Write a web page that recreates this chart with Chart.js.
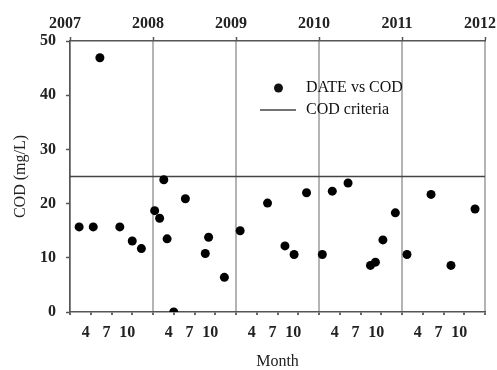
<!DOCTYPE html>
<html>
<head>
<meta charset="utf-8">
<script src="https://cdn.jsdelivr.net/npm/chart.js@4.4.1/dist/chart.umd.min.js"></script>
<style>
  html, body { margin: 0; padding: 0; background: #fff; }
  #wrap { width: 497px; height: 370px; }
</style>
</head>
<body>
<div id="wrap"><canvas id="chart"></canvas></div>
<script>
// sampling dates (decimal years) and measured COD (mg/L)
const sampleDates = [
    2007.11, 2007.28, 2007.36, 2007.60, 2007.75, 2007.86,
    2008.02, 2008.08, 2008.13, 2008.17, 2008.25, 2008.39, 2008.63, 2008.67, 2008.86,
    2009.05, 2009.38, 2009.59, 2009.70, 2009.85,
    2010.04, 2010.16, 2010.35, 2010.62, 2010.68, 2010.77, 2010.92,
    2011.06, 2011.35, 2011.59, 2011.88
];
const codValues = [
    15.7, 15.7, 46.9, 15.7, 13.1, 11.7,
    18.7, 17.3, 24.4, 13.5, 0, 20.9, 10.8, 13.8, 6.4,
    15.0, 20.1, 12.2, 10.6, 22.0,
    10.6, 22.3, 23.8, 8.6, 9.2, 13.3, 18.3,
    10.6, 21.7, 8.6, 19.0
];
const criteriaLevel = 25;
const years = [2007, 2008, 2009, 2010, 2011, 2012];
const monthTicks = [4, 7, 10];
const yTicks = [0, 10, 20, 30, 40, 50];

const serif = "'Liberation Serif', 'Times New Roman', serif";
const tickFont = { family: serif, size: 16, weight: "bold" };
const ink = "#222";
const axisColor = "#555";

// year ticks plus month ticks inside each year
const bottomTicks = [];
years.forEach(y => {
    bottomTicks.push(y);
    if (y < years[years.length - 1]) {
        monthTicks.forEach(m => bottomTicks.push(y + (m - 1) / 12));
    }
});

const refLegend = {
    id: "refLegend",
    afterDraw(chart) {
        const ctx = chart.ctx;
        const [pts, crit] = chart.data.datasets;
        const a = chart.chartArea;
        const x0 = a.left + 190, y0 = a.top + 47;
        ctx.save();
        ctx.font = "16px " + serif;
        ctx.fillStyle = "#111";
        ctx.textBaseline = "middle";
        ctx.beginPath();
        ctx.arc(x0 + 18.5, y0, pts.pointRadius, 0, Math.PI * 2);
        ctx.fill();
        ctx.fillText(pts.label, x0 + 46, y0);
        ctx.strokeStyle = crit.borderColor;
        ctx.lineWidth = crit.borderWidth;
        ctx.beginPath();
        ctx.moveTo(x0, y0 + 22);
        ctx.lineTo(x0 + 36, y0 + 22);
        ctx.stroke();
        ctx.fillText(crit.label, x0 + 46, y0 + 22);
        ctx.restore();
    }
};

new Chart(document.getElementById("chart"), {
    type: "scatter",
    data: {
        datasets: [{
            label: "DATE vs COD",
            data: sampleDates.map((d, i) => ({ x: d, y: codValues[i] })),
            pointRadius: 4.5,
            pointBackgroundColor: "#000",
            pointBorderWidth: 0
        }, {
            type: "line",
            label: "COD criteria",
            data: [years[0], years[years.length - 1]].map(x => ({ x: x, y: criteriaLevel })),
            borderColor: "#444",
            borderWidth: 1.5,
            pointRadius: 0
        }]
    },
    options: {
        responsive: true,
        maintainAspectRatio: false,
        animation: false,
        layout: { padding: { right: 12 } },
        plugins: {
            legend: { display: false },
            tooltip: { enabled: false }
        },
        scales: {
            x: {
                type: "linear",
                position: "bottom",
                min: 2007,
                max: 2012,
                afterBuildTicks: s => { s.ticks = bottomTicks.map(v => ({ value: v })); },
                afterFit: s => { s.height = 58; s.paddingLeft = 0; s.paddingRight = 0; },
                ticks: {
                    font: tickFont,
                    color: ink,
                    padding: 8,
                    labelOffset: -5,
                    maxRotation: 0,
                    autoSkip: false,
                    callback: v => {
                        const m = Math.round((v - Math.floor(v)) * 12) + 1;
                        return m === 1 ? "" : String(m);
                    }
                },
                grid: {
                    color: c => (c.tick && Number.isInteger(c.tick.value)) ? "#b4b4b4" : "rgba(0,0,0,0)",
                    lineWidth: 2,
                    tickLength: 3,
                    tickColor: "#333",
                    tickWidth: 1.5
                },
                border: { color: axisColor, width: 1.5 },
                title: {
                    display: true,
                    text: "Month",
                    color: ink,
                    font: { family: serif, size: 16, lineHeight: 1 },
                    padding: { top: 0, bottom: 0 }
                }
            },
            x2: {
                type: "linear",
                position: "top",
                min: 2007,
                max: 2012,
                afterBuildTicks: s => { s.ticks = years.map(v => ({ value: v })); },
                afterFit: s => { s.height = 41; s.paddingLeft = 0; s.paddingRight = 0; },
                ticks: {
                    font: tickFont,
                    color: ink,
                    padding: 4,
                    labelOffset: -5,
                    maxRotation: 0,
                    autoSkip: false,
                    callback: v => String(v)
                },
                grid: {
                    drawOnChartArea: false,
                    tickLength: 4,
                    tickColor: axisColor,
                    tickWidth: 1.5
                },
                border: { color: axisColor, width: 1.5 }
            },
            y: {
                min: 0,
                max: 50,
                afterBuildTicks: s => { s.ticks = yTicks.map(v => ({ value: v })); },
                afterFit: s => { s.width = 70; },
                ticks: { font: tickFont, color: ink, padding: 10 },
                grid: {
                    drawOnChartArea: false,
                    tickLength: 4,
                    tickColor: axisColor,
                    tickWidth: 1.5
                },
                border: { color: axisColor, width: 1.5 },
                title: {
                    display: true,
                    text: "COD (mg/L)",
                    color: ink,
                    font: { family: serif, size: 16 },
                    padding: { top: 11, bottom: 0 }
                }
            }
        }
    },
    plugins: [refLegend]
});
</script>
</body>
</html>
